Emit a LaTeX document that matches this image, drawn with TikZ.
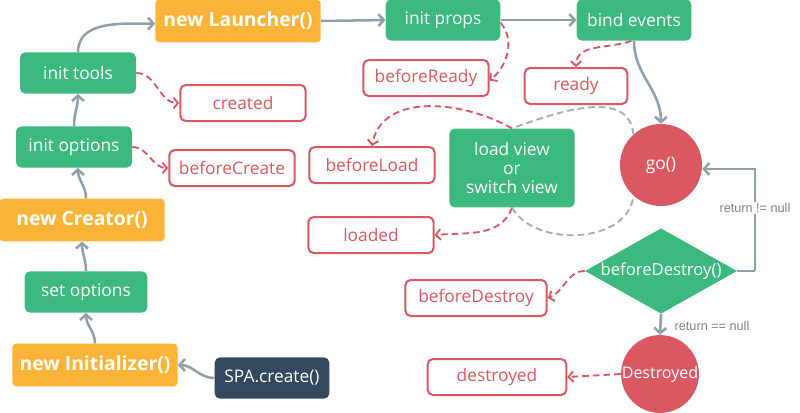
\documentclass[tikz,border=0pt]{standalone}
\usepackage{fontspec}
\setmainfont{Open Sans}
\newfontfamily\notefont{Liberation Sans}
\usetikzlibrary{shapes.geometric,arrows.meta}
\definecolor{hookgreen}{HTML}{3CB97F}
\definecolor{hookorange}{HTML}{FBB438}
\definecolor{hookred}{HTML}{DA5861}
\definecolor{hooknavy}{HTML}{34495E}
\definecolor{hookgray}{HTML}{8FA0AA}
\definecolor{notegray}{HTML}{808080}
\tikzset{
	stepbox/.style={fill=hookgreen, text=white, rounded corners=4pt, inner sep=0pt,
		minimum width=87pt, minimum height=31pt, align=center, font=\fontsize{13}{14.5}\selectfont},
	classbox/.style={fill=hookorange, text=white, rounded corners=3pt, inner sep=0pt,
		minimum width=124pt, minimum height=32pt, font=\fontsize{14.5}{16}\bfseries},
	hookbox/.style={draw=hookred, line width=1.5pt, fill=white, text=hookred, rounded corners=4pt,
		inner sep=0pt, minimum width=94pt, minimum height=27pt, font=\fontsize{13}{15}\selectfont},
	statedot/.style={circle, fill=hookred, text=white, inner sep=0pt, font=\fontsize{13}{15}\selectfont},
	flow/.style={draw=hookgray, line width=1.9pt, -{Straight Barb[length=4pt,width=9pt]}},
	hookline/.style={draw=hookred, line width=1.4pt, dash pattern=on 5pt off 3pt, -{Straight Barb[length=3.5pt,width=8pt]}},
	viewloop/.style={draw=hookgray!85, line width=1.4pt, dash pattern=on 5pt off 3pt},
	note/.style={text=notegray, font=\notefont\fontsize{9.5}{11}\selectfont}
}
\begin{document}
\begin{tikzpicture}[x=0.75pt,y=-0.75pt]
		\useasboundingbox (0,0) rectangle (800,412);
		%%%
		\node[classbox] (launcher) at (238,21) {new Launcher()};
		\node[stepbox, minimum width=86pt] (props) at (443,20) {init props};
		\node[stepbox, minimum width=86pt] (events) at (634,20) {bind events};
		\node[stepbox] (tools) at (78,73) {init tools};
		\node[stepbox] (options) at (74,147) {init options};
		\node[classbox] (creator) at (82,220) {new Creator()};
		\node[stepbox, minimum width=92pt] (setopt) at (86,292) {set options};
		\node[classbox] (initializer) at (95,365) {new Initializer()};
		\node[stepbox, fill=hooknavy, minimum width=86pt] (spa) at (272,378) {SPA.create()};
		\node[stepbox, minimum width=94pt, minimum height=59pt] (view) at (512,168) {load view\\or\\switch view};
		%%%
		\node[hookbox] (created) at (243,103) {created};
		\node[hookbox] (beforeready) at (426,78) {beforeReady};
		\node[hookbox, minimum width=77pt] (ready) at (576,86) {ready};
		\node[hookbox] (beforecreate) at (232,168) {beforeCreate};
		\node[hookbox] (beforeload) at (372,165) {beforeLoad};
		\node[hookbox] (loaded) at (371,235) {loaded};
		\node[hookbox, minimum width=106pt] (beforedestroy) at (476,298) {beforeDestroy};
		\node[hookbox, minimum width=104pt] (destroyed) at (497,377) {destroyed};
		%%%
		\node[statedot, minimum size=61.5pt] (go) at (661,165) {go()};
		\node[diamond, fill=hookgreen, text=white, inner sep=0pt, shape aspect=1.8,
			minimum width=114pt, minimum height=64pt, font=\fontsize{12.5}{14}\selectfont] (check) at (661,271) {beforeDestroy()};
		\node[statedot, minimum size=57pt, font=\fontsize{12}{14}\selectfont] (dead) at (660,374) {Destroyed};
		%%%
		\draw[flow] (spa.west) to[out=180,in=0] (initializer.east);
		\draw[flow] (initializer.north) to[out=90,in=-90] (setopt.south);
		\draw[flow] (setopt.north) to[out=90,in=-90] (creator.south);
		\draw[flow] ([xshift=3pt]creator.north) to[out=90,in=-90] ([xshift=3pt]options.south);
		\draw[flow] (options.north) to[out=90,in=-90] (tools.south);
		\draw[flow] (tools.north) to[out=90,in=180] ([yshift=-2pt]launcher.west);
		\draw[flow] (launcher.east) -- (props.west);
		\draw[flow] (props.east) -- (events.west);
		\draw[flow] (events.south) to[out=-90,in=90] (go.north);
		\draw[flow] (check.south) -- (dead.north);
		%%%
		\coordinate (turn) at (755,271);
		\draw[flow, -] (check.east) -- (turn);
		\draw[flow] (turn) |- ([yshift=-3pt]go.east);
		\node[note, fill=white, inner sep=1pt] (ne) at (755,208) {return != null};
		\node[note, anchor=west] (eq) at (670,326) {return == null};
		%%%
		\draw[hookline] (tools.east) to[out=0,in=180] (created.west);
		\draw[hookline] (options.east) to[out=0,in=180] (beforecreate.west);
		\draw[hookline] ([yshift=-2pt]props.east) to[out=-50,in=40] ([yshift=-2pt]beforeready.east);
		\draw[hookline] ([xshift=-2pt]events.south) to[out=-160,in=90] (ready.north);
		\draw[hookline] (view.north) to[out=150,in=80] (beforeload.north);
		\draw[hookline] (view.south) to[out=-110,in=5] (loaded.east);
		\draw[hookline] (check.west) to[out=180,in=20] (beforedestroy.east);
		\draw[hookline] (dead.west) -- (destroyed.east);
		%%%
		\draw[viewloop] (go.132) to[out=95,in=20] (view.north);
		\draw[viewloop] (view.south) to[out=-60,in=-95] (go.228);
	\end{tikzpicture}
\end{document}
